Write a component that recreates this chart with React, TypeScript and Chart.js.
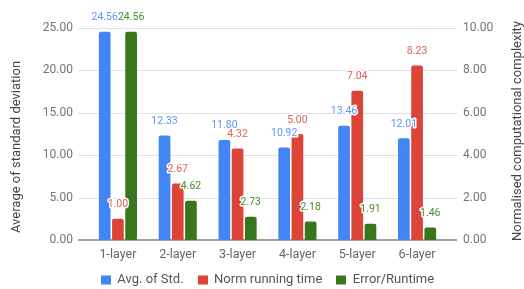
import React, { useEffect, useRef } from "react";
import { Chart, registerables } from "chart.js";

Chart.register(...registerables);

const categories = ["1-layer", "2-layer", "3-layer", "4-layer", "5-layer", "6-layer"];
const avgStd = [24.56, 12.33, 11.8, 10.92, 13.46, 12.01];
const normRuntime = [1.0, 2.67, 4.32, 5.0, 7.04, 8.23];
const errorPerRuntime = [24.56, 4.62, 2.73, 2.18, 1.91, 1.46];
const seriesNames = ["Avg. of Std.", "Norm running time", "Error/Runtime"];
const seriesColors = ["#4285f4", "#db4437", "#38761d"];
const labelColors = ["#5b95f6", "#e0625a", "#4a8a2c"];
const leftTitle = "Average of standard deviation";
const rightTitle = "Normalised computational complexity";

const FONT = "Roboto, 'Noto Sans', sans-serif";

const decorPlugin = {
  id: "decor",
  beforeDatasetsDraw(chart: any) {
    const { ctx, chartArea, scales } = chart;
    const y = scales.y;
    const x0 = chartArea.left - 10;
    const x1 = chartArea.right + 10;
    ctx.save();
    y.ticks.forEach((t: any) => {
      const py = Math.round(y.getPixelForValue(t.value));
      if (t.value === 0) return;
      ctx.strokeStyle = "#e0e0e0";
      ctx.lineWidth = 1;
      ctx.beginPath();
      ctx.moveTo(x0, py + 0.5);
      ctx.lineTo(x1, py + 0.5);
      ctx.stroke();
    });
    const pb = Math.round(y.getPixelForValue(0));
    ctx.strokeStyle = "#a0a0a0";
    ctx.lineWidth = 2;
    ctx.beginPath();
    ctx.moveTo(x0, pb);
    ctx.lineTo(x1, pb);
    ctx.stroke();
    ctx.restore();
  },
  afterDatasetsDraw(chart: any) {
    const { ctx } = chart;
    ctx.save();
    ctx.font = `10.5px ${FONT}`;
    ctx.textAlign = "center";
    ctx.textBaseline = "alphabetic";
    ctx.lineJoin = "round";
    chart.data.datasets.forEach((ds: any, di: number) => {
      const meta = chart.getDatasetMeta(di);
      meta.data.forEach((el: any, i: number) => {
        const txt = Number(ds.data[i]).toFixed(2);
        const tx = el.x;
        const ty = el.y - 11.5;
        ctx.strokeStyle = "#ffffff";
        ctx.lineWidth = 3;
        ctx.strokeText(txt, tx, ty);
        ctx.fillStyle = labelColors[di];
        ctx.fillText(txt, tx, ty);
      });
    });
    ctx.restore();
  },
  afterDraw(chart: any) {
    const { ctx, chartArea } = chart;
    ctx.save();
    // axis titles
    ctx.font = `13px ${FONT}`;
    ctx.fillStyle = "#444444";
    ctx.textAlign = "center";
    ctx.textBaseline = "middle";
    ctx.save();
    ctx.translate(17, 147);
    ctx.rotate(-Math.PI / 2);
    ctx.fillText(leftTitle, 0, 0);
    ctx.restore();
    ctx.save();
    ctx.translate(518, 131);
    ctx.rotate(-Math.PI / 2);
    ctx.fillText(rightTitle, 0, 0);
    ctx.restore();

    // legend
    ctx.font = `13px ${FONT}`;
    const boxW = 10;
    const boxH = 9;
    const gap = 6.5;
    const spacing = 14;
    const widths = seriesNames.map((n) => boxW + gap + ctx.measureText(n).width);
    const total = widths.reduce((a, b) => a + b, 0) + spacing * (widths.length - 1);
    const cx = (chartArea.left - 10 + chartArea.right + 10) / 2;
    let lx = cx - total / 2;
    const ly = 280;
    seriesNames.forEach((n, i) => {
      ctx.fillStyle = seriesColors[i];
      ctx.fillRect(Math.round(lx), ly - boxH / 2, boxW, boxH);
      ctx.fillStyle = "#555555";
      ctx.textAlign = "left";
      ctx.textBaseline = "middle";
      ctx.fillText(n, lx + boxW + gap, ly);
      lx += widths[i] + spacing;
    });
    ctx.restore();
  },
};

export default function App() {
  const ref = useRef<HTMLCanvasElement | null>(null);
  useEffect(() => {
    document.body.style.margin = "0";
    const canvas = ref.current;
    if (!canvas) return;
    const common = {
      categoryPercentage: 0.662,
      barPercentage: 0.886,
      borderRadius: 2,
      borderWidth: 0,
    };
    const chart = new Chart(canvas, {
      type: "bar",
      data: {
        labels: categories,
        datasets: [
          { label: seriesNames[0], data: avgStd, backgroundColor: seriesColors[0], yAxisID: "y", ...common },
          { label: seriesNames[1], data: normRuntime, backgroundColor: seriesColors[1], yAxisID: "y1", ...common },
          { label: seriesNames[2], data: errorPerRuntime, backgroundColor: seriesColors[2], yAxisID: "y", ...common },
        ],
      },
      options: {
        animation: false,
        responsive: false,
        devicePixelRatio: 1,
        layout: { padding: { top: 28, bottom: 27, left: 0, right: 0 } },
        plugins: {
          legend: { display: false },
          tooltip: { enabled: false },
        },
        scales: {
          x: {
            grid: { display: false, drawTicks: false },
            border: { display: false },
            ticks: { font: { family: FONT, size: 12.5 }, color: "#666666", padding: 7 },
            afterFit: (s: any) => {
              s.height = 22;
            },
          },
          y: {
            position: "left",
            min: 0,
            max: 25,
            grid: { display: false, drawTicks: false },
            border: { display: false },
            ticks: {
              stepSize: 5,
              padding: 15,
              font: { family: FONT, size: 12 },
              color: "#757575",
              callback: (v: any) => Number(v).toFixed(2),
            },
            afterFit: (s: any) => {
              s.width = 88;
            },
          },
          y1: {
            position: "right",
            min: 0,
            max: 10,
            grid: { display: false, drawTicks: false },
            border: { display: false },
            ticks: {
              stepSize: 2,
              padding: 16,
              font: { family: FONT, size: 12 },
              color: "#757575",
              callback: (v: any) => Number(v).toFixed(2),
            },
            afterFit: (s: any) => {
              s.width = 77;
            },
          },
        },
      } as any,
      plugins: [decorPlugin],
    });
    return () => chart.destroy();
  }, []);
  return (
    <canvas ref={ref} width={524} height={289} style={{ display: "block", width: 524, height: 289 }} />
  );
}
